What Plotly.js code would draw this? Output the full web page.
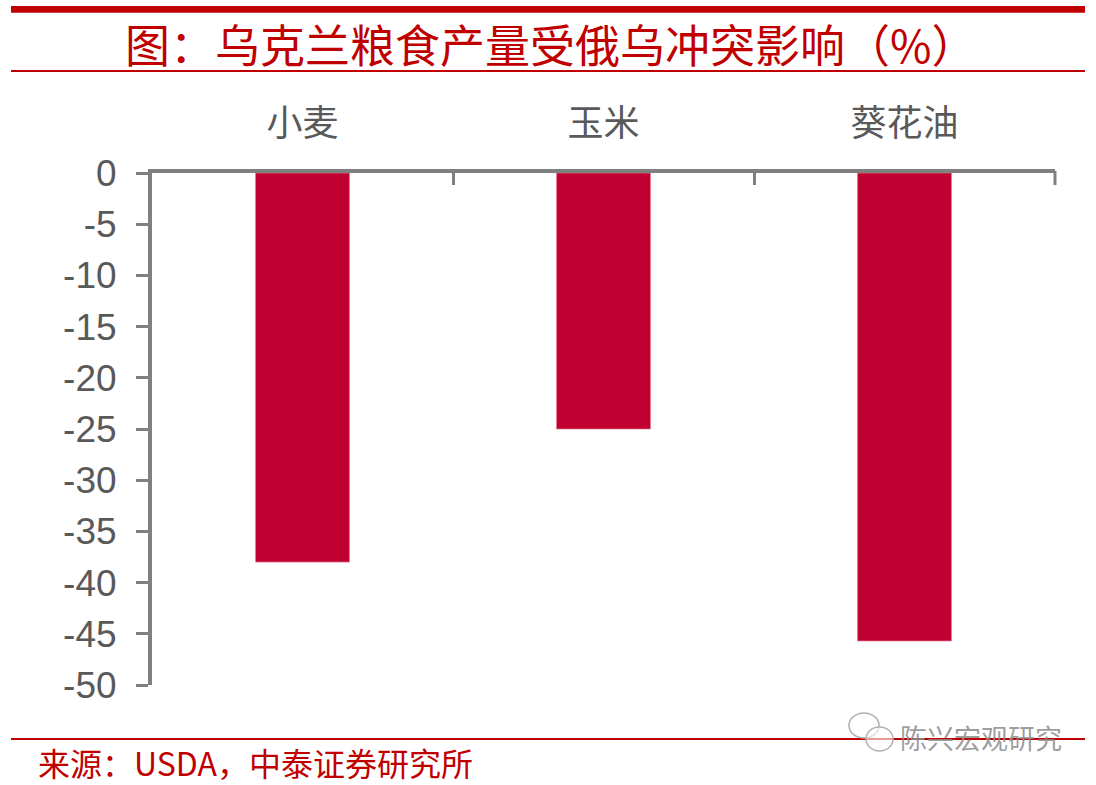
<!DOCTYPE html>
<html>
<head>
<meta charset="utf-8">
<script src="https://cdn.plot.ly/plotly-3.0.1.min.js"></script>
<style>
html,body{margin:0;padding:0;background:#fff;}
#chart{width:1096px;height:785px;}
</style>
</head>
<body>
<div id="chart"></div>
<script>
// Data
var categories = ['小麦', '玉米', '葵花油'];
var values = [-38, -25, -45.7];
var yTickValues = [0, -5, -10, -15, -20, -25, -30, -35, -40, -45, -50];
var titleText = '图：乌克兰粮食产量受俄乌冲突影响（%）';
var sourceText = '来源：USDA，中泰证券研究所';
var watermarkText = '陈兴宏观研究';

// Layout geometry (pixels)
var W = 1096, H = 785;
var M = {l: 152, r: 41, t: 173, b: 100};
var PW = W - M.l - M.r, PH = H - M.t - M.b;
function px(x){ return (x - M.l) / PW; }
function py(y){ return (H - M.b - y) / PH; }

var RED = '#C00000';
var GREY = '#808080';
var TXT = '#595959';
var CJK = '"Noto Sans CJK SC", "Noto Sans", sans-serif';
var LAT = '"Liberation Sans", Arial, sans-serif';

var trace = {
  type: 'bar',
  x: categories,
  y: values,
  marker: {color: '#C00030', line: {color: 'rgba(225,120,140,0.9)', width: 0.8}},
  hoverinfo: 'x+y'
};

var layout = {
  width: W, height: H,
  margin: M,
  paper_bgcolor: '#fff',
  plot_bgcolor: '#fff',
  showlegend: false,
  bargap: 0.688,
  xaxis: {
    type: 'category',
    side: 'top',
    showline: true, linecolor: GREY, linewidth: 4,
    ticks: 'inside', tickson: 'boundaries', ticklen: 12, tickwidth: 3, tickcolor: GREY,
    tickfont: {family: CJK, size: 36, color: TXT},
    ticklabelstandoff: 19,
    showgrid: false, zeroline: false,
    fixedrange: true
  },
  yaxis: {
    range: [-50, 0],
    tickvals: yTickValues,
    ticktext: yTickValues.map(String),
    showline: true, linecolor: GREY, linewidth: 4,
    ticks: 'outside', ticklen: 12, tickwidth: 3, tickcolor: GREY,
    tickfont: {family: LAT, size: 37, color: TXT},
    ticklabelstandoff: 12,
    showgrid: false, zeroline: false,
    fixedrange: true
  },
  shapes: [
    {type: 'rect', xref: 'paper', yref: 'paper', x0: px(11), x1: px(1085), y0: py(12.7), y1: py(6), fillcolor: RED, line: {width: 0}},
    {type: 'line', xref: 'paper', yref: 'paper', x0: px(11), x1: px(1085), y0: py(71), y1: py(71), line: {color: RED, width: 2}},
    {type: 'line', xref: 'paper', yref: 'paper', x0: px(11), x1: px(1085), y0: py(739), y1: py(739), line: {color: RED, width: 2}},
    {type: 'line', xref: 'paper', yref: 'paper', x0: 1, x1: 1, y0: py(171), y1: py(185), line: {color: GREY, width: 3}},
    {type: 'circle', xref: 'paper', yref: 'paper', x0: px(849), x1: px(879), y0: py(738), y1: py(713), fillcolor: 'rgba(255,255,255,0.6)', line: {color: '#B0B0B0', width: 1.5}},
    {type: 'circle', xref: 'paper', yref: 'paper', x0: px(866), x1: px(893), y0: py(751), y1: py(727), fillcolor: 'rgba(255,255,255,0.6)', line: {color: '#B0B0B0', width: 1.5}}
  ],
  annotations: [
    {text: titleText, xref: 'paper', yref: 'paper', x: px(550), y: py(43), xanchor: 'center', yanchor: 'middle', showarrow: false,
     font: {family: CJK, size: 45, color: RED}},
    {text: sourceText, xref: 'paper', yref: 'paper', x: px(36), y: py(762), xanchor: 'left', yanchor: 'middle', showarrow: false,
     font: {family: CJK, size: 32, color: RED}},
    {text: watermarkText, xref: 'paper', yref: 'paper', x: px(898), y: py(737), xanchor: 'left', yanchor: 'middle', showarrow: false,
     font: {family: CJK, size: 27, color: 'rgba(140,140,140,0.85)'}}
  ]
};

Plotly.newPlot('chart', [trace], layout, {displayModeBar: false, staticPlot: false});
</script>
</body>
</html>
